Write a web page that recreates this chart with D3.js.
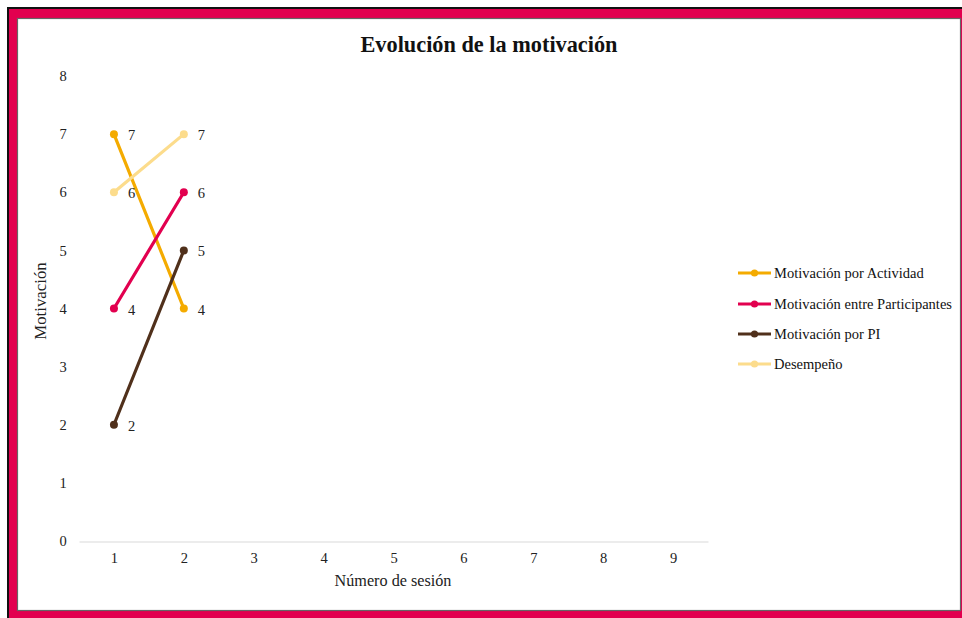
<!DOCTYPE html>
<html>
<head>
<meta charset="utf-8">
<script src="https://cdn.jsdelivr.net/npm/d3@7/dist/d3.min.js"></script>
<style>
  html, body { margin: 0; padding: 0; background: #fff; }
  svg { display: block; }
  text { font-family: "Liberation Serif", "Times New Roman", serif; fill: #222; }
</style>
</head>
<body>
<svg id="chart" width="962" height="618"></svg>
<script>
// Session numbers shown on the x axis
const sessions = [1, 2, 3, 4, 5, 6, 7, 8, 9];
const yTicks = [0, 1, 2, 3, 4, 5, 6, 7, 8];

// Series (values for sessions 1 and 2)
const seriesNames = [
  "Motivación por Actividad",
  "Motivación entre Participantes",
  "Motivación por PI",
  "Desempeño"
];
const actividad = [7, 4];
const participantes = [4, 6];
const pi = [2, 5];
const desempeno = [6, 7];
const seriesColors = ["#F4AB00", "#E2004F", "#50301B", "#FCDC8C"];

const seriesValues = [actividad, participantes, pi, desempeno];

const svg = d3.select("#chart");
const W = 962, H = 618;
const serif = "'Liberation Serif', 'Times New Roman', serif";

// Frame: dark outer edge, crimson band, white panel with thin grey rim
svg.append("rect").attr("x", 0).attr("y", 0).attr("width", W).attr("height", H).attr("fill", "#fff");
svg.append("rect").attr("x", 7).attr("y", 7).attr("width", W - 7).attr("height", H - 7).attr("fill", "#111");
svg.append("rect").attr("x", 9).attr("y", 9).attr("width", W - 9).attr("height", H - 9).attr("fill", "#E2004F");
svg.append("rect").attr("x", 17.5).attr("y", 18.5).attr("width", 943).attr("height", 592)
  .attr("fill", "#fff").attr("stroke", "#666").attr("stroke-width", 1.2);

const x = d3.scalePoint().domain(sessions).range([79, 708]).padding(0.5);
const y = d3.scaleLinear().domain([0, 8]).range([541, 76]);

// Title
svg.append("text").attr("x", 489).attr("y", 52).attr("text-anchor", "middle")
  .style("font-size", "22.3px").style("font-weight", "bold").style("fill", "#111")
  .text("Evolución de la motivación");

// X axis
const xAxis = svg.append("g").attr("transform", "translate(0,541.5)")
  .call(d3.axisBottom(x).tickSize(0).tickPadding(11));
xAxis.select(".domain").attr("stroke", "#d9d9d9").attr("stroke-width", 1);
xAxis.selectAll("text").style("font-size", "14.5px").style("font-family", serif).style("fill", "#222");

// Y axis (labels only)
const yAxis = svg.append("g").attr("transform", "translate(69,0)")
  .call(d3.axisLeft(y).tickValues(yTicks).tickSize(0).tickPadding(0));
yAxis.select(".domain").remove();
yAxis.selectAll("text").attr("text-anchor", "middle").attr("x", -6)
  .style("font-size", "14.5px").style("font-family", serif).style("fill", "#222");

// Axis titles
svg.append("text").attr("x", 393).attr("y", 586).attr("text-anchor", "middle")
  .style("font-size", "16.2px").text("Número de sesión");
svg.append("text").attr("transform", "translate(46,301) rotate(-90)").attr("text-anchor", "middle")
  .style("font-size", "16.8px").text("Motivación");

// Lines, markers and data labels
const line = d3.line().x((d, i) => x(sessions[i])).y(d => y(d));
seriesValues.forEach((vals, s) => {
  const g = svg.append("g");
  g.append("path").datum(vals).attr("d", line)
    .attr("fill", "none").attr("stroke", seriesColors[s]).attr("stroke-width", 3.2)
    .attr("stroke-linecap", "round");
  g.selectAll("circle").data(vals).join("circle")
    .attr("cx", (d, i) => x(sessions[i])).attr("cy", d => y(d)).attr("r", 4)
    .attr("fill", seriesColors[s]);
  g.selectAll("text").data(vals).join("text")
    .attr("x", (d, i) => x(sessions[i]) + 14).attr("y", d => y(d) + 6)
    .style("font-size", "14.5px").text(d => d);
});

// Legend
const legend = svg.append("g");
const legendY = [273, 304, 334, 364];
seriesNames.forEach((name, i) => {
  const g = legend.append("g").attr("transform", `translate(0,${legendY[i]})`);
  g.append("line").attr("x1", 738).attr("x2", 771).attr("y1", 0).attr("y2", 0)
    .attr("stroke", seriesColors[i]).attr("stroke-width", 3.2);
  g.append("circle").attr("cx", 754.5).attr("cy", 0).attr("r", 3.6).attr("fill", seriesColors[i]);
  g.append("text").attr("x", 774).attr("y", 5).style("font-size", "14.5px").style("fill", "#111").text(name);
});
</script>
</body>
</html>
